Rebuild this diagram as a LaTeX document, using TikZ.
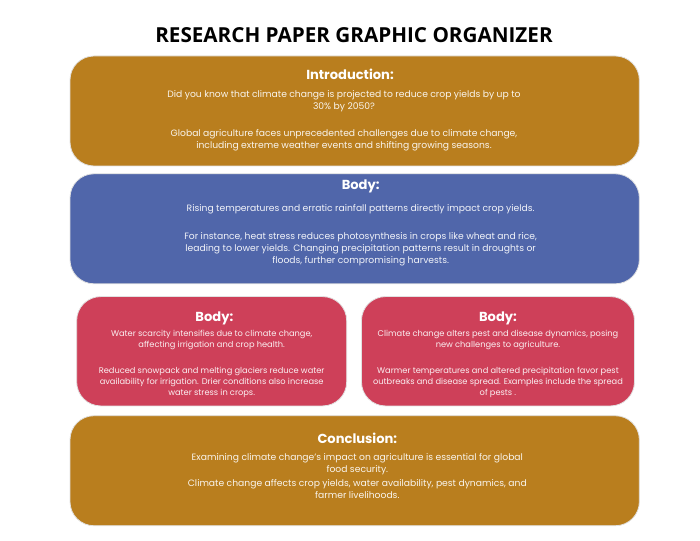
\documentclass[tikz,border=0pt]{standalone}
\usepackage{fontspec}
\setmainfont{Poppins}
\newfontfamily\titlefont{Open Sans}
\usepackage{xcolor}
\usepackage{tikz}
\usetikzlibrary{positioning}
\definecolor{introgold}{RGB}{185, 126, 30}
\definecolor{bodyblue}{RGB}{80, 102, 170}
\definecolor{bodyred}{RGB}{206, 64, 89}
\definecolor{edgegray}{RGB}{225, 225, 225}

\begin{document}
\begin{tikzpicture}[
    section/.style={draw=edgegray, line width=0.6pt, fill=#1, rounded corners=18pt, minimum width=427pt, minimum height=82.5pt},
    half/.style={section=#1, minimum width=202.5pt, minimum height=82pt},
    heading/.style={text=white, inner sep=0pt, font=\bfseries\fontsize{9.8}{11}\selectfont},
    para/.style={text=white, text opacity=0.92, inner sep=0pt, align=center, font=\fontsize{6.9}{9}\selectfont},
    smallpara/.style={para, font=\fontsize{6.2}{8.2}\selectfont}
]
    \useasboundingbox (0,0) rectangle (525pt,-405.75pt);

    % Title
    \node[font=\titlefont\bfseries\fontsize{15.5}{18}\selectfont] (title) at (265.5pt,-26.6pt) {RESEARCH PAPER GRAPHIC ORGANIZER};

    % Boxes
    \node[section=introgold] (intro) at (266pt,-83.25pt) {};
    \node[section=bodyblue, below=5.25pt of intro] (body) {};
    \node[half=bodyred, below=9pt of body.south west, anchor=north west, xshift=5pt] (water) {};
    \node[half=bodyred, right=10.5pt of water, minimum width=204.75pt] (pests) {};
    \coordinate (lowmid) at (body.south |- water.south);
    \node[section=introgold, below=6.75pt of lowmid] (concl) {};

    % Headings
    \node[heading] (introhead) at ([xshift=-3.5pt, yshift=-13.8pt]intro.north) {Introduction:};
    \node[heading] (bodyhead) at ([xshift=4.5pt, yshift=-10pt]body.north) {Body:};
    \node[heading] (waterhead) at ([xshift=2pt, yshift=-16.3pt]water.north) {Body:};
    \node[heading] (pestshead) at ([yshift=-16.3pt]pests.north) {Body:};
    \node[heading] (conclhead) at ([xshift=2pt, yshift=-17pt]concl.north) {Conclusion:};

    % Texts
    \node[para, below=8.2pt of introhead, xshift=-4.5pt] (introtext) {Did you know that climate change is projected to reduce crop yields by up to\\ 30\% by 2050?\\[11pt]
        Global agriculture faces unprecedented challenges due to climate change,\\ including extreme weather events and shifting growing seasons.};
    \node[para, below=8pt of bodyhead] (bodytext) {Rising temperatures and erratic rainfall patterns directly impact crop yields.\\[12pt]
        For instance, heat stress reduces photosynthesis in crops like wheat and rice,\\ leading to lower yields. Changing precipitation patterns result in droughts or\\ floods, further compromising harvests.};
    \node[smallpara, below=3.6pt of waterhead, xshift=-2pt] (watertext) {Water scarcity intensifies due to climate change,\\ affecting irrigation and crop health.\\[11.5pt]
        Reduced snowpack and melting glaciers reduce water\\ availability for irrigation. Drier conditions also increase\\ water stress in crops.};
    \node[smallpara, below=3.6pt of pestshead] (peststext) {Climate change alters pest and disease dynamics, posing\\ new challenges to agriculture.\\[11.5pt]
        Warmer temperatures and altered precipitation favor pest\\ outbreaks and disease spread. Examples include the spread\\ of pests .};
    \node[para, below=7.5pt of conclhead] (concltext) {Examining climate change's impact on agriculture is essential for global\\ food security.\\[1pt]
        Climate change affects crop yields, water availability, pest dynamics, and\\ farmer livelihoods.};
\end{tikzpicture}
\end{document}
